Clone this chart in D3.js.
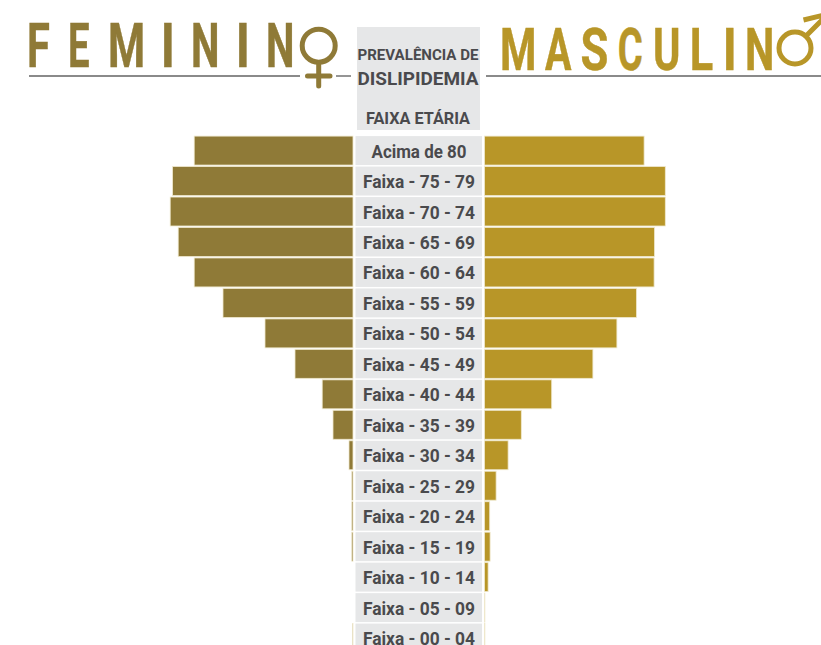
<!DOCTYPE html>
<html><head><meta charset="utf-8">
<script src="https://cdn.jsdelivr.net/npm/d3@7"></script>
<style>html,body{margin:0;padding:0;background:#fff;overflow:hidden}svg{display:block}text{font-family:Roboto,sans-serif}</style>
</head><body><div id="c"></div>
<script>
const categories=["Acima de 80","Faixa - 75 - 79","Faixa - 70 - 74","Faixa - 65 - 69","Faixa - 60 - 64","Faixa - 55 - 59","Faixa - 50 - 54","Faixa - 45 - 49","Faixa - 40 - 44","Faixa - 35 - 39","Faixa - 30 - 34","Faixa - 25 - 29","Faixa - 20 - 24","Faixa - 15 - 19","Faixa - 10 - 14","Faixa - 05 - 09","Faixa - 00 - 04"];
const feminino=[39.7,45.1,45.7,43.7,39.7,32.5,22,14.5,7.7,5,1,0.3,0.3,0.3,0,0,0.1];
const masculino=[39.9,45.2,45.2,42.5,42.4,38,33.1,27.1,16.8,9.2,5.9,2.9,1.3,1.4,0.9,0.1,0.1];
const W=821,H=645,ink="#4a4a4d",panel="#e6e7e8",lineC="#8a8a8a";
const femC="#8f7a37",mascC="#b89628";
const svg=d3.select("#c").append("svg").attr("width",W).attr("height",H);
const y=d3.scaleBand().domain(categories).range([135.5,135.5+30.45*categories.length]).paddingInner(0.05).paddingOuter(0.02);
const xF=d3.scaleLinear().domain([0,50]).range([353,153]);
const xM=d3.scaleLinear().domain([0,50]).range([484.5,684.5]);

svg.append("rect").attr("x",357).attr("y",27).attr("width",123).attr("height",103).attr("fill",panel);
const head=[["PREVALÊNCIA DE",59.5,15,121],["DISLIPIDEMIA",84.5,19,121],["FAIXA ETÁRIA",123.5,16,104]];
svg.selectAll("text.h").data(head).join("text").attr("class","h")
 .attr("x",418).attr("y",d=>d[1]).attr("text-anchor","middle").attr("font-size",d=>d[2]).attr("font-weight",700).attr("fill",ink)
 .attr("textLength",d=>d[3]).attr("lengthAdjust","spacingAndGlyphs").text(d=>d[0]);

const bars=(vals,cls,fill,xs,left)=>svg.selectAll("rect."+cls).data(vals).join("rect").attr("class",cls)
 .attr("x",d=>left?xs(d):xs(0)).attr("width",d=>Math.abs(xs(d)-xs(0)))
 .attr("y",(d,i)=>y(categories[i])).attr("height",y.bandwidth())
 .attr("fill",fill).attr("stroke","#efe8cc").attr("stroke-width",d=>d>0?0.8:0);
bars(feminino,"f",femC,xF,true);
bars(masculino,"m",mascC,xM,false);

const rows=svg.selectAll("g.r").data(categories).join("g").attr("class","r");
rows.append("rect").attr("x",355.5).attr("width",126.5).attr("y",d=>y(d)).attr("height",y.bandwidth()).attr("fill",panel);
rows.append("text").attr("x",419).attr("y",d=>y(d)+y.bandwidth()/2+7).attr("text-anchor","middle")
 .attr("font-size",18.5).attr("font-weight",700).attr("fill",ink)
 .attr("textLength",d=>d[0]==="A"?95:112).attr("lengthAdjust","spacingAndGlyphs").text(d=>d);

// titles: each letter is fitted to its measured ink box
const ctx=document.createElement("canvas").getContext("2d");
function title(word,xs,base,fill,cap){
 const fs=cap/0.711,g=svg.append("g").attr("fill",fill);
 ctx.font=`700 ${fs}px Roboto`;
 word.split("").forEach((c,i)=>{
  const m=ctx.measureText(c),l=-m.actualBoundingBoxLeft,r=m.actualBoundingBoxRight;
  const sx=(xs[i][1]-xs[i][0])/(r-l);
  g.append("text").attr("font-size",fs).attr("font-weight",700).attr("stroke",fill).attr("stroke-width",0.5)
   .attr("transform",`translate(${xs[i][0]-l*sx},${base}) scale(${sx},1)`).text(c);
 });
}
title("FEMININ",[[29,49],[70,89],[110,143],[164,172],[193,217],[239,247],[268,292]],67,femC,43);
title("MASCULIN",[[502,534],[545,572],[582,607],[619,642],[655,678],[692,713],[726,734],[747,772]],69.7,mascC,42.5);

[[29,300],[336,351],[486,821]].forEach(d=>svg.append("line").attr("x1",d[0]).attr("x2",d[1]).attr("y1",76).attr("y2",76).attr("stroke",lineC).attr("stroke-width",1.8));

const fs=svg.append("g").attr("stroke",femC).attr("fill","none").attr("stroke-width",5).attr("stroke-linecap","round");
fs.append("circle").attr("cx",318.7).attr("cy",45.7).attr("r",16.5);
fs.append("path").attr("d","M318.7 63V86M307.5 76H330");
const ms=svg.append("g").attr("stroke",mascC).attr("fill","none").attr("stroke-width",5);
ms.append("circle").attr("cx",795).attr("cy",48).attr("r",16);
ms.append("path").attr("d","M807 35L824 18M803.5 20L824 15");
</script></body></html>
